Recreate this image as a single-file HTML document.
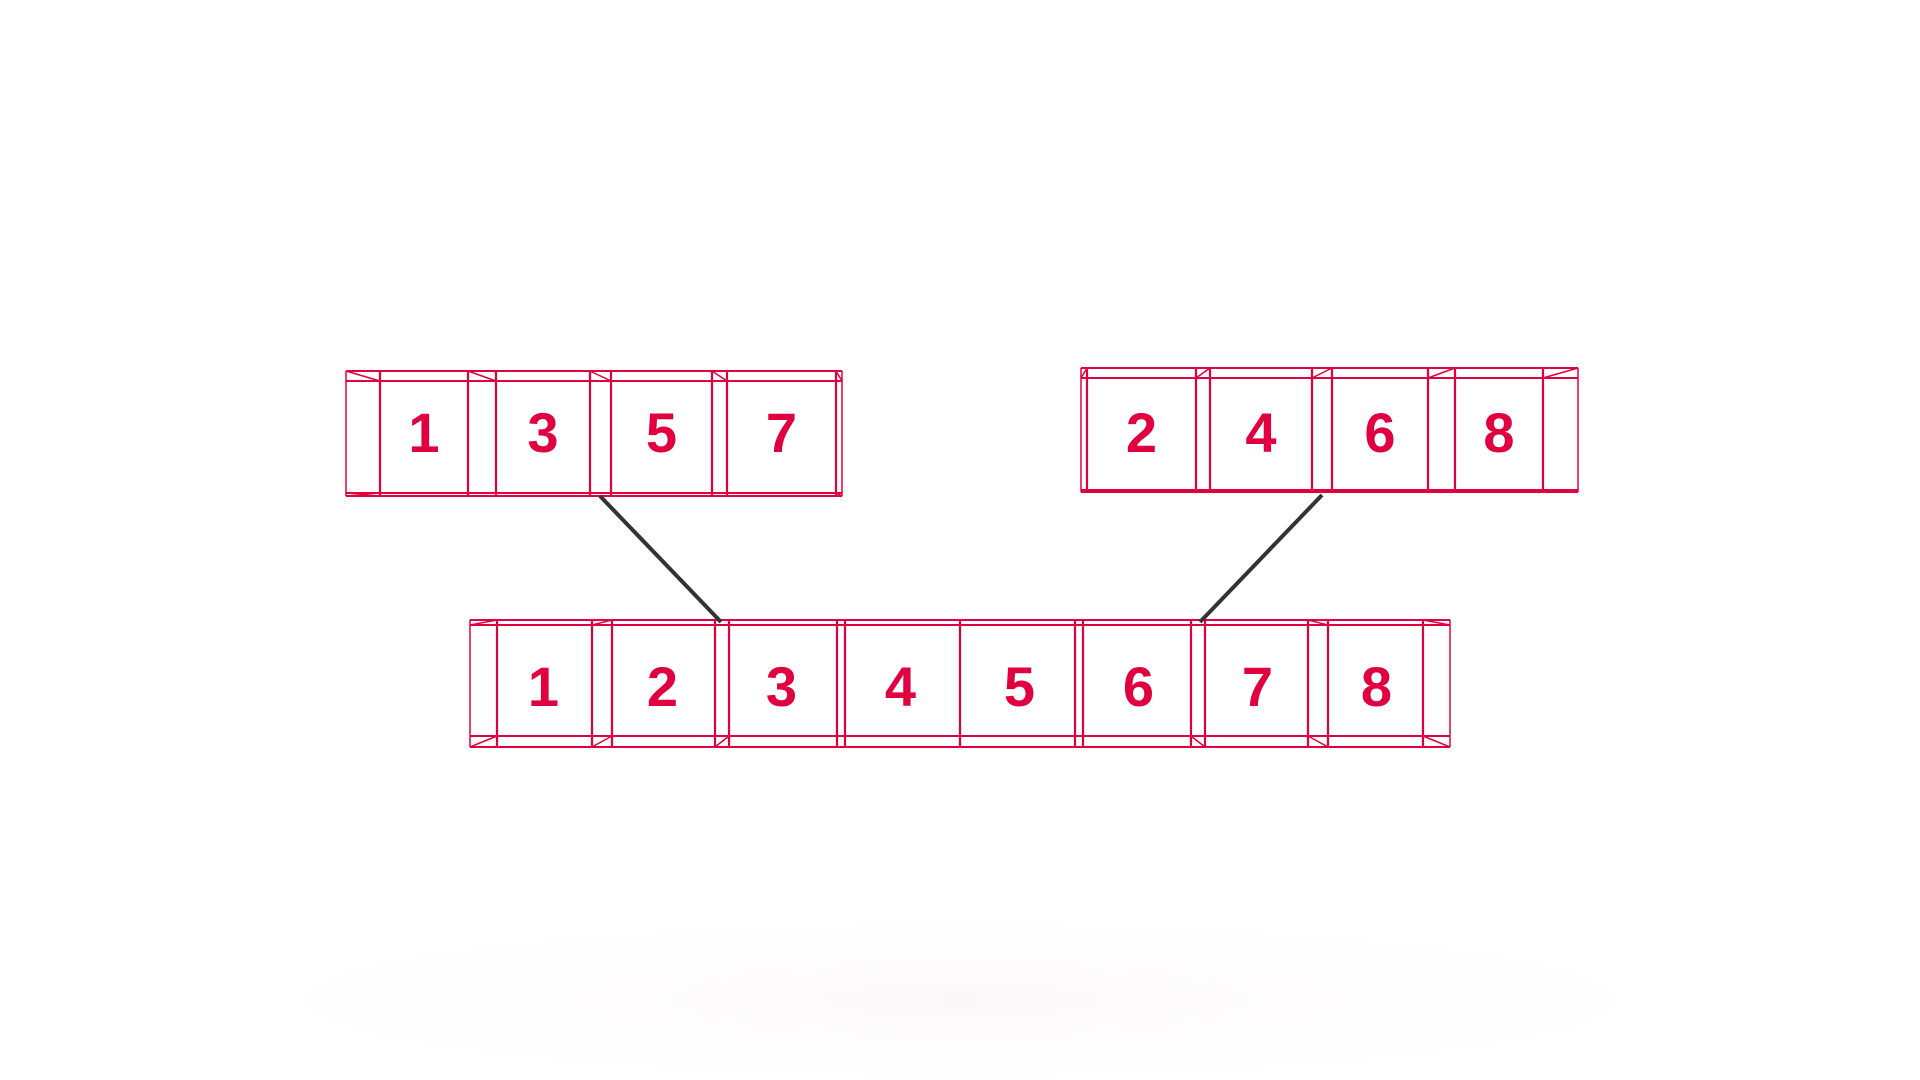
<!DOCTYPE html>
<html><head><meta charset="utf-8"><style>
html,body{margin:0;padding:0;background:#fff;width:1920px;height:1080px;overflow:hidden}
svg{display:block}
text{font-family:"Liberation Sans",sans-serif;font-weight:bold;font-size:56px;fill:#e0003f}
</style></head><body>
<svg id="s" width="1920" height="1080" viewBox="0 0 1920 1080">
<defs><radialGradient id="sh" cx="0.5" cy="0.5" r="0.5"><stop offset="0" stop-color="#fbf7f8"/><stop offset="1" stop-color="#fff" stop-opacity="0"/></radialGradient></defs>
<ellipse cx="960" cy="1000" rx="850" ry="100" fill="url(#sh)"/>
<g id="g"></g>
</svg>
<script>
const leftLabels=["1","3","5","7"];
const rightLabels=["2","4","6","8"];
const mergedLabels=["1","2","3","4","5","6","7","8"];
const NS="http://www.w3.org/2000/svg";
const g=document.getElementById('g');
const C="#e0003f";
function ln(x1,y1,x2,y2,w,c,name){const l=document.createElementNS(NS,'line');
l.setAttribute('x1',x1);l.setAttribute('y1',y1);l.setAttribute('x2',x2);l.setAttribute('y2',y2);
l.setAttribute('stroke',c||C);l.setAttribute('stroke-width',w||2);


g.appendChild(l);}
function txt(x,y,s){const t=document.createElementNS(NS,'text');t.setAttribute('x',x);t.setAttribute('y',y);t.setAttribute('text-anchor','middle');t.textContent=s;


g.appendChild(t);}
function frame(vs,yt,yb,conn){
 ln(vs[0],yt[0],vs[vs.length-1],yt[0]);ln(vs[0],yt[1],vs[vs.length-1],yt[1]);
 ln(vs[0],yb[0],vs[vs.length-1],yb[0]);ln(vs[0],yb[1],vs[vs.length-1],yb[1]);
 vs.forEach((x,i)=>ln(x,Math.min(yt[0],yt[1]),x,Math.max(yb[0],yb[1]),i===0||i===vs.length-1?1.5:2.2));
 conn.forEach(c=>ln(c[0],c[1],c[2],c[3],1.5));
}
// top-left
const tl=[346,380,468,496,590,611,712,727,836,842];
frame(tl,[371,381],[493,496],[[346,371,380,381],[468,371,496,381],[590,371,611,381],[712,371,727,381],[836,371,842,381],[346,493,380,496],[836,493,842,496]]);
leftLabels.forEach((s,i)=>txt((tl[2*i+1]+tl[2*i+2])/2,452,s));
// top-right
const tr=[1081,1087,1196,1210,1312,1332,1428,1455,1543,1578];
frame(tr,[378,368],[490,492],[[1081,378,1087,368],[1196,378,1210,368],[1312,378,1332,368],[1428,378,1455,368],[1543,378,1578,368],[1543,490,1578,492],[1081,492,1087,490]]);
rightLabels.forEach((s,i)=>txt((tr[2*i+1]+tr[2*i+2])/2,452,s));
// bottom
const bt=[470,497,592,612,715,729,837,845,960,1075,1083,1191,1205,1308,1328,1423,1450];
frame(bt,[625,620],[736,747],[[470,625,497,620],[470,747,497,736],[592,625,612,620],[592,747,612,736],[715,747,729,736],[1423,620,1450,625],[1423,736,1450,747],[1308,620,1328,625],[1308,736,1328,747],[1191,736,1205,747]]);
const bw=(1436-484)/mergedLabels.length;
mergedLabels.forEach((s,i)=>txt(484+bw*(i+0.5),706,s));
ln(600,496,721,622,4,'#333','left-merge-connector');
ln(1322,495,1200,622,4,'#333','right-merge-connector');
</script>
</body></html>
